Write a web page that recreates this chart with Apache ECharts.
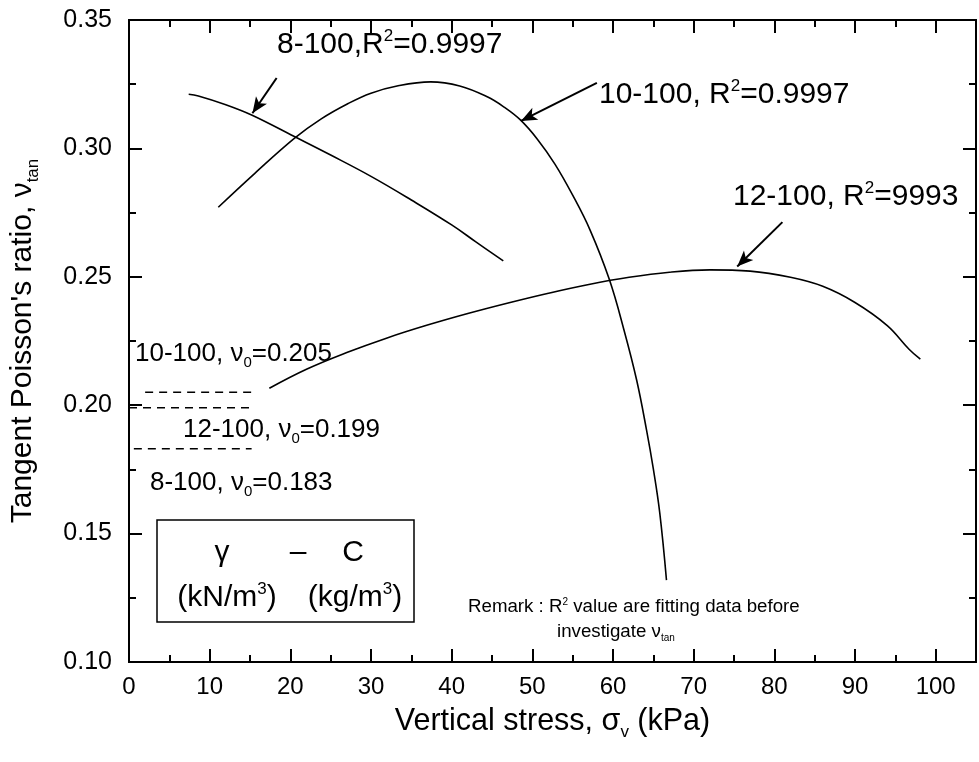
<!DOCTYPE html>
<html><head><meta charset="utf-8">
<script src="https://cdn.jsdelivr.net/npm/echarts@6/dist/echarts.min.js"></script>
<style>html,body{margin:0;padding:0;background:#fff}#c{width:979px;height:762px}</style>
</head><body><div id="c"></div>
<script>
// ---------- data ----------
const xRange = [0, 105];
const yRange = [0.10, 0.35];
const xTickStep = 10;
const yTickStep = 0.05;

const s8_x  = [7.4, 8.6, 12.0, 15.2, 20.5, 25.0, 30.0, 35.0, 40.0, 43.0, 46.4];
const s8_y  = [0.3211, 0.3204, 0.3170, 0.3130, 0.3046, 0.2974, 0.2891, 0.2799, 0.2702, 0.2636, 0.2562];

const s10_x = [11.07, 15.6, 20.53, 23.83, 27.0, 30.0, 33.5, 37.4, 41.0, 44.41, 46.5, 48.52, 50.6, 52.8, 55.0, 57.16, 59.54, 61.36, 62.93, 64.16, 65.0, 65.8, 66.63];
const s10_y = [0.2771, 0.2903, 0.3040, 0.3115, 0.3172, 0.3215, 0.3245, 0.3259, 0.3243, 0.3201, 0.3161, 0.3111, 0.3037, 0.2939, 0.2818, 0.2682, 0.2490, 0.2293, 0.2098, 0.1903, 0.1752, 0.1580, 0.1319];

const s12_x = [17.4, 22.0, 27.0, 32.0, 37.0, 42.0, 47.0, 52.0, 57.0, 62.0, 67.0, 72.0, 77.0, 82.0, 86.0, 90.0, 94.0, 96.7, 98.1];
const s12_y = [0.2066, 0.2140, 0.2205, 0.2262, 0.2312, 0.2357, 0.2398, 0.2436, 0.2470, 0.2498, 0.2518, 0.2527, 0.2522, 0.2498, 0.2463, 0.2400, 0.2310, 0.2218, 0.2179];

const v0Names  = ['10-100', '12-100', '8-100'];
const v0Values = [0.205, 0.199, 0.183];
const v0XStart = [2.0, 0.0, 0.6];
const v0XEnd   = [15.2, 15.2, 15.2];

// arrows: [tailX, tailY, tipX, tipY] in data units
const arrows = [
  [18.3, 0.3274, 15.3, 0.3137],
  [58.0, 0.3255, 48.6, 0.3107],
  [81.0, 0.2713, 75.4, 0.2540]
];

// ---------- helpers ----------
const FONT = '"Liberation Sans", Arial, Helvetica, sans-serif';
function zip(xs, ys) { return xs.map((x, i) => [x, ys[i]]); }
function richSet(F) {
  const s = Math.round(F * 0.56);
  return {
    n:   {fontSize: F, fontFamily: FONT, color: '#000'},
    sup: {fontSize: s, fontFamily: FONT, color: '#000', padding: [0, 0, Math.round(F * 0.55), 0]},
    sub: {fontSize: s, fontFamily: FONT, color: '#000', padding: [Math.round(F * 0.7), 0, 0, 0]}
  };
}
function txt(x, y, text, F, align) {
  return {
    type: 'text', x: x, y: y, silent: true,
    style: {
      text: text, rich: richSet(F), fontSize: F, fontFamily: FONT, fill: '#000',
      align: align || 'left', verticalAlign: 'middle'
    }
  };
}

const lineStyle = {color: '#000', width: 1.6};
const axisLineStyle = {color: '#000', width: 2};

function xAxisDef(pos, step, tickLen, showLabel) {
  return {
    type: 'value', position: pos, min: xRange[0], max: xRange[1], interval: step,
    axisLine: {show: true, onZero: false, lineStyle: axisLineStyle},
    axisTick: {show: true, inside: true, length: tickLen, lineStyle: {color: '#000', width: 2}},
    axisLabel: {show: showLabel, fontSize: 24, fontFamily: FONT, color: '#000', margin: 13,
      formatter: v => (v > 100 ? '' : String(v))},
    splitLine: {show: false}
  };
}
function yAxisDef(pos, showLabel) {
  return {
    type: 'value', position: pos, min: yRange[0], max: yRange[1], interval: yTickStep,
    axisLine: {show: true, onZero: false, lineStyle: axisLineStyle},
    axisTick: {show: true, inside: true, length: 13, lineStyle: {color: '#000', width: 2}},
    minorTick: {show: true, splitNumber: 2, length: 7, lineStyle: {color: '#000', width: 2}},
    axisLabel: {show: showLabel, fontSize: 25, fontFamily: FONT, color: '#000', margin: 17,
      formatter: v => v.toFixed(2)},
    splitLine: {show: false}, minorSplitLine: {show: false}
  };
}

const xMainBottom = xAxisDef('bottom', xTickStep, 13, true);
xMainBottom.name = 'Vertical stress, {n|σ}{sub|v} (kPa)';
xMainBottom.nameLocation = 'middle';
xMainBottom.nameGap = 41;
xMainBottom.nameTextStyle = {fontSize: 30.5, fontFamily: FONT, color: '#000', rich: richSet(30.5)};

const yMainLeft = yAxisDef('left', true);
yMainLeft.name = "Tangent Poisson's ratio, {n|ν}{sub|tan}";
yMainLeft.nameLocation = 'middle';
yMainLeft.nameGap = 87;
yMainLeft.nameTextStyle = {fontSize: 30, fontFamily: FONT, color: '#000', rich: richSet(30)};

const curveSeries = [
  {name: '8-100', data: zip(s8_x, s8_y)},
  {name: '10-100', data: zip(s10_x, s10_y)},
  {name: '12-100', data: zip(s12_x, s12_y)}
].map(s => ({
  type: 'line', name: s.name, data: s.data, xAxisIndex: 0, yAxisIndex: 0,
  showSymbol: false, symbol: 'none', smooth: 0.4, lineStyle: lineStyle, silent: true
}));

const v0Series = v0Values.map((v, i) => ({
  type: 'line', name: v0Names[i] + ' v0', xAxisIndex: 0, yAxisIndex: 0,
  data: [[v0XStart[i], v], [v0XEnd[i], v]], showSymbol: false, symbol: 'none', silent: true,
  lineStyle: {color: '#000', width: 1.5, type: [8, 6]}
}));

curveSeries[0].markLine = {
  silent: true, animation: false, symbol: ['none', 'arrow'], symbolSize: [10, 16],
  lineStyle: {color: '#000', width: 2, type: 'solid'}, label: {show: false},
  data: arrows.map(a => [{coord: [a[0], a[1]]}, {coord: [a[2], a[3]]}])
};

const chart = echarts.init(document.getElementById('c'), null, {renderer: 'canvas'});
chart.setOption({
  animation: false,
  backgroundColor: '#fff',
  grid: {left: 127, right: 2, top: 20, bottom: 100, containLabel: false},
  xAxis: [
    xMainBottom,
    xAxisDef('bottom', 5, 7, false),
    xAxisDef('top', xTickStep, 13, false),
    xAxisDef('top', 5, 7, false)
  ],
  yAxis: [
    yMainLeft,
    yAxisDef('right', false)
  ],
  series: curveSeries.concat(v0Series),
  graphic: [
    txt(277, 45, '{n|8-100,R}{sup|2}{n|=0.9997}', 30),
    txt(599, 95, '{n|10-100, R}{sup|2}{n|=0.9997}', 30),
    txt(733, 197, '{n|12-100, R}{sup|2}{n|=9993}', 30),
    txt(135, 354, '{n|10-100, ν}{sub|0}{n|=0.205}', 26),
    txt(183, 430, '{n|12-100, ν}{sub|0}{n|=0.199}', 26),
    txt(150, 483, '{n|8-100, ν}{sub|0}{n|=0.183}', 26),
    {type: 'rect', silent: true, shape: {x: 157, y: 520, width: 257, height: 102},
     style: {fill: 'none', stroke: '#000', lineWidth: 1.5}},
    txt(222, 553, '{n|γ}', 30, 'center'),
    txt(298, 553, '{n|–}', 30, 'center'),
    txt(353, 553, '{n|C}', 30, 'center'),
    txt(227, 598, '{n|(kN/m}{sup|3}{n|)}', 30, 'center'),
    txt(355, 598, '{n|(kg/m}{sup|3}{n|)}', 30, 'center'),
    txt(468, 607, '{n|Remark : R}{sup|2}{n| value are fitting data before}', 18.7),
    txt(557, 632, '{n|investigate ν}{sub|tan}', 18.7)
  ]
});
</script></body></html>
